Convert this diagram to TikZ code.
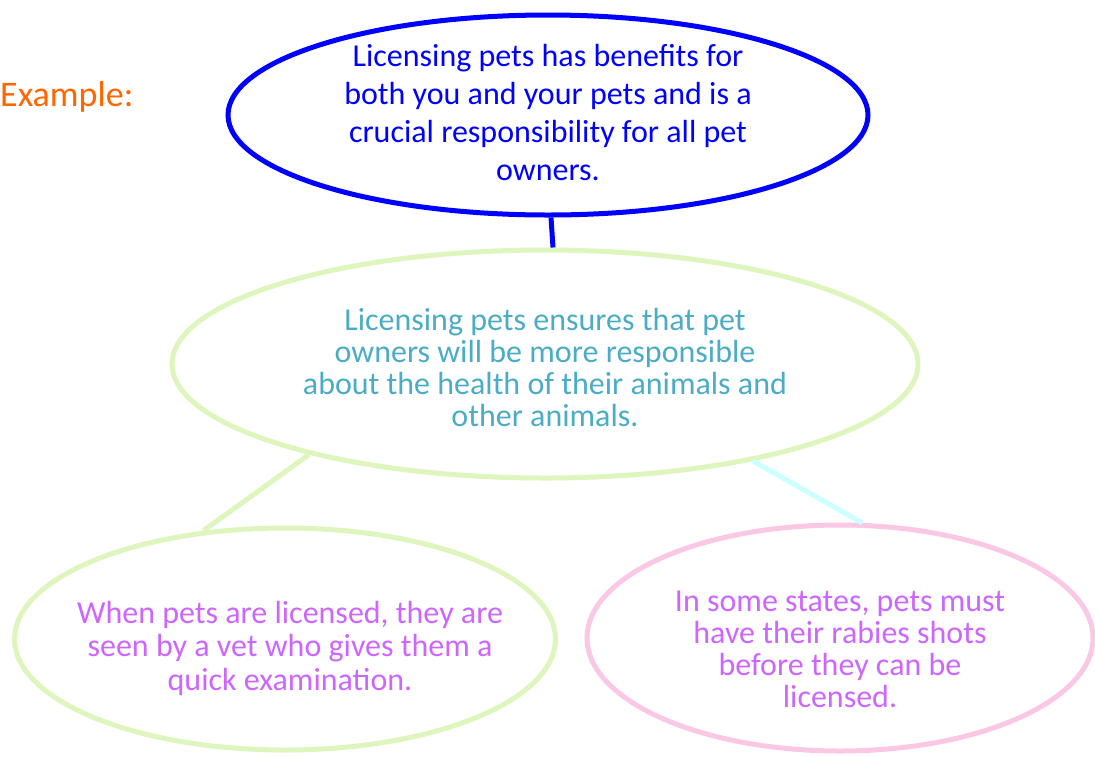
\documentclass[tikz,border=0pt]{standalone}
\usepackage{fontspec}
\setmainfont{Carlito}
\usetikzlibrary{shapes.geometric}
\definecolor{exorange}{RGB}{255,102,0}
\definecolor{claimblue}{RGB}{0,0,255}
\definecolor{paleleaf}{RGB}{222,245,190}
\definecolor{reasonteal}{RGB}{75,172,198}
\definecolor{paleink}{RGB}{204,102,255}
\definecolor{palepink}{RGB}{250,200,228}
\definecolor{palecyan}{RGB}{204,255,255}
\begin{document}
\begin{tikzpicture}[x=1pt, y=-1pt]
    \tikzstyle{bubble} = [ellipse, draw, line width=5pt, inner sep=0pt]
    \tikzstyle{words} = [align=center, inner sep=0pt]

    \useasboundingbox (0,0) rectangle (1095,756);

    \node [anchor=west, inner sep=0pt, text=exorange, font=\fontsize{36}{40}\selectfont] (label) at (0,97) {Example:};

    % the four bubbles
    \node [bubble, draw=claimblue, minimum width=640pt, minimum height=200pt] (claim) at (548,115) {};
    \node [bubble, draw=paleleaf, minimum width=746pt, minimum height=228pt] (reason) at (545,364) {};
    \node [bubble, draw=paleleaf, minimum width=541pt, minimum height=222pt] (ex1) at (285,639) {};
    \node [bubble, draw=palepink, minimum width=506pt, minimum height=226pt] (ex2) at (840,638) {};

    % their texts
    \node [words, text=claimblue, font=\fontsize{32}{38}\selectfont] (claimtxt) at ([yshift=2pt]claim.center)
        {Licensing pets has benefits for\\both you and your pets and is a\\crucial responsibility for all pet\\owners.};
    \node [words, text=reasonteal, font=\fontsize{32}{32}\selectfont] (reasontxt) at ([yshift=-4pt]reason.center)
        {Licensing pets ensures that pet\\owners will be more responsible\\about the health of their animals and\\other animals.};
    \node [words, text=paleink, font=\fontsize{32}{33.5}\selectfont] (ex1txt) at ([xshift=5pt,yshift=-9pt]ex1.center)
        {When pets are licensed, they are\\seen by a vet who gives them a\\quick examination.};
    \node [words, text=paleink, font=\fontsize{32}{32}\selectfont] (ex2txt) at ([yshift=-11pt]ex2.center)
        {In some states, pets must\\have their rabies shots\\before they can be\\licensed.};

    \draw [claimblue, line width=5pt] ([xshift=3pt]claim.south) -- ([xshift=8pt]reason.north);
    \draw [paleleaf, line width=5pt] (reason.201.8) -- (ex1.127.5);
    \draw [palecyan, line width=5pt] (reason.335.7) -- (ex2.79.3);
\end{tikzpicture}
\end{document}
